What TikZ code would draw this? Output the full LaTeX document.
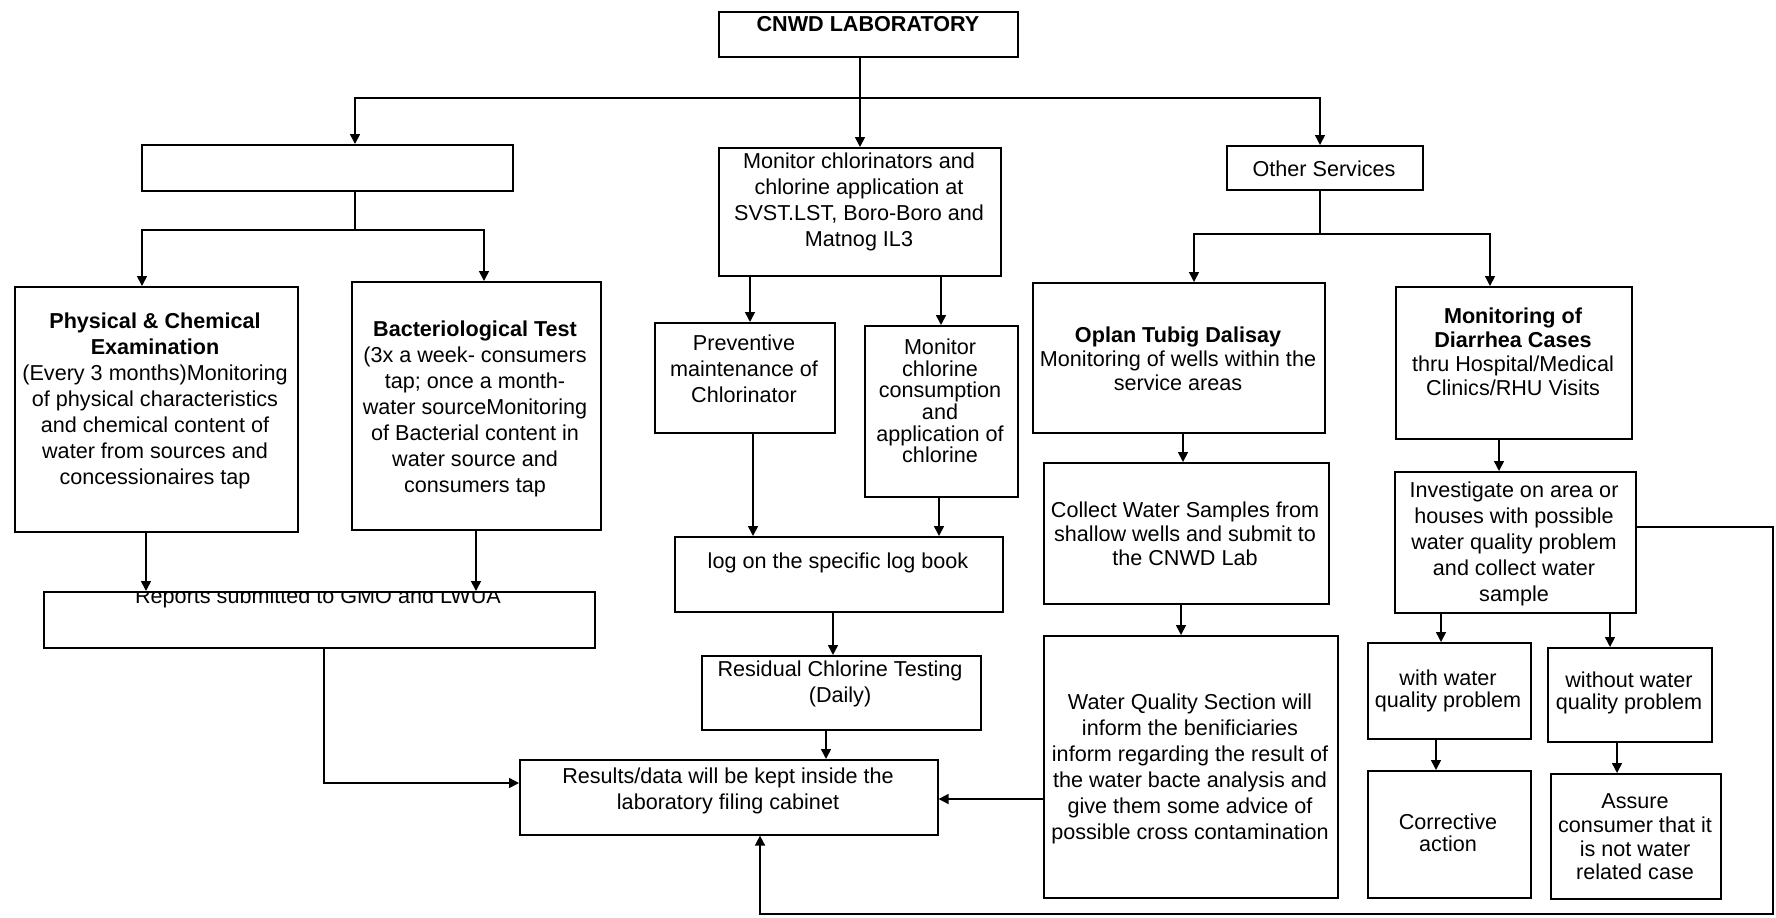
\documentclass[tikz,border=0pt]{standalone}
\usepackage{fontspec}
\setmainfont{Liberation Sans}
\usetikzlibrary{arrows.meta}
\newcommand\bx[5]{\node[box, anchor=north west, minimum width={(#4-#2)*0.5pt}, minimum height={(#5-#3)*0.5pt}] (#1) at (#2,#3) {};}
\tikzset{
  box/.style={draw, line width=0.8pt, inner sep=0pt, rectangle},
  txt/.style={align=center, inner sep=0pt, font=\fontsize{10.8}{13}\selectfont},
  ln/.style={line width=0.8pt},
  arr/.style={line width=0.8pt, -{Triangle[length=5pt,width=5pt]}},
}
\begin{document}
\begin{tikzpicture}[x=0.5pt,y=-0.5pt]
\useasboundingbox (0,0) rectangle (1776,917);
% boxes
\bx{cnwd}{718}{11}{1017}{56}
\bx{empty}{141}{144}{512}{190}
\bx{mon}{718}{147}{1000}{275}
\bx{other}{1226}{145}{1422}{189}
\bx{phys}{14}{286}{297}{531}
\bx{bact}{351}{281}{600}{529}
\bx{reports}{43}{591}{594}{647}
\bx{prev}{654}{322}{834}{432}
\bx{monc}{864}{325}{1017}{496}
\bx{log}{674}{536}{1002}{611}
\bx{resid}{701}{655}{980}{729}
\bx{results}{519}{759}{937}{834}
\bx{oplan}{1032}{282}{1324}{432}
\bx{diar}{1395}{286}{1631}{438}
\bx{collect}{1043}{462}{1328}{603}
\bx{wq}{1043}{635}{1337}{897}
\bx{inv}{1394}{471}{1635}{612}
\bx{with}{1367}{642}{1530}{738}
\bx{without}{1547}{647}{1711}{741}
\bx{corr}{1367}{770}{1530}{897}
\bx{assure}{1550}{773}{1720}{898}
% texts
\node[txt] (t-cnwd) at (868,24) {\bfseries CNWD LABORATORY};
\node[txt] (t-mon) at (859,202) {Monitor chlorinators and\\chlorine application at\\SVST.LST, Boro-Boro and\\Matnog IL3};
\node[txt] (t-other) at (1324,169) {Other Services};
\node[txt] (t-phys) at (155,401) {\bfseries Physical \& Chemical\\\bfseries Examination\\(Every 3 months)Monitoring\\of physical characteristics\\and chemical content of\\water from sources and\\concessionaires tap};
\node[txt] (t-bact) at (475,409) {\bfseries Bacteriological Test\\(3x a week- consumers\\tap; once a month-\\water sourceMonitoring\\of Bacterial content in\\water source and\\consumers tap};
\begin{scope}
\clip (43,591) rectangle (594,647);
\node[txt] (t-rep) at (318,597.5) {Reports submitted to GMO and LWUA};
\end{scope}
\node[txt] (t-prev) at (744,369) {Preventive\\maintenance of\\Chlorinator};
\node[txt, font=\fontsize{10.8}{10.8}\selectfont] (t-monc) at (940,401) {Monitor\\chlorine\\consumption\\and\\application of\\chlorine};
\node[txt] (t-log) at (838,563) {log on the specific log book};
\node[txt] (t-resid) at (840,684) {Residual Chlorine Testing\\(Daily)};
\node[txt] (t-results) at (728,791) {Results/data will be kept inside the\\laboratory filing cabinet};
\node[txt, font=\fontsize{10.8}{12}\selectfont] (t-oplan) at (1178,359) {\bfseries Oplan Tubig Dalisay\\Monitoring of wells within the\\service areas};
\node[txt, font=\fontsize{10.8}{12}\selectfont] (t-diar) at (1513,352) {\bfseries Monitoring of\\\bfseries Diarrhea Cases\\thru Hospital/Medical\\Clinics/RHU Visits};
\node[txt, font=\fontsize{10.8}{12}\selectfont] (t-collect) at (1185,534) {Collect Water Samples from\\shallow wells and submit to\\the CNWD Lab};
\node[txt] (t-wq) at (1190,769) {Water Quality Section will\\inform the benificiaries\\inform regarding the result of\\the water bacte analysis and\\give them some advice of\\possible cross contamination};
\node[txt] (t-inv) at (1514,544) {Investigate on area or\\houses with possible\\water quality problem\\and collect water\\sample};
\node[txt, font=\fontsize{10.8}{10.8}\selectfont] (t-with) at (1448,691) {with water\\quality problem};
\node[txt, font=\fontsize{10.8}{10.8}\selectfont] (t-without) at (1629,693) {without water\\quality problem};
\node[txt, font=\fontsize{10.8}{10.8}\selectfont] (t-corr) at (1448,833) {Corrective\\action};
\node[txt, font=\fontsize{10.8}{11.8}\selectfont] (t-assure) at (1635,837) {Assure\\consumer that it\\is not water\\related case};
% connectors
\draw[arr] (cnwd.south -| 860,0) -- (860,98) -| (empty.north -| 355,0);
\draw[arr] (860,98) -- (mon.north -| 860,0);
\draw[arr] (860,98) -| (other.north -| 1320,0);
\draw[arr] (empty.south -| 355,0) -- (355,230) -| (phys.north -| 142,0);
\draw[arr] (355,230) -| (bact.north -| 484,0);
\draw[arr] (phys.south -| 146,0) -- (reports.north -| 146,0);
\draw[arr] (bact.south -| 476,0) -- (reports.north -| 476,0);
\draw[arr] (reports.south -| 324,0) |- (results.west |- 0,783);
\draw[arr] (mon.south -| 750,0) -- (prev.north -| 750,0);
\draw[arr] (mon.south -| 941,0) -- (monc.north -| 941,0);
\draw[arr] (prev.south -| 753,0) -- (log.north -| 753,0);
\draw[arr] (monc.south -| 939,0) -- (log.north -| 939,0);
\draw[arr] (log.south -| 833,0) -- (resid.north -| 833,0);
\draw[arr] (resid.south -| 826,0) -- (results.north -| 826,0);
\draw[arr] (other.south -| 1320,0) -- (1320,234) -| (oplan.north -| 1194,0);
\draw[arr] (1320,234) -| (diar.north -| 1490,0);
\draw[arr] (oplan.south -| 1183,0) -- (collect.north -| 1183,0);
\draw[arr] (collect.south -| 1181,0) -- (wq.north -| 1181,0);
\draw[arr] (wq.west |- 0,799) -- (results.east |- 0,799);
\draw[arr] (diar.south -| 1499,0) -- (inv.north -| 1499,0);
\draw[arr] (inv.south -| 1441,0) -- (with.north -| 1441,0);
\draw[arr] (inv.south -| 1610,0) -- (without.north -| 1610,0);
\draw[arr] (with.south -| 1436,0) -- (corr.north -| 1436,0);
\draw[arr] (without.south -| 1617,0) -- (assure.north -| 1617,0);
\coordinate (c1) at (1773,527);
\coordinate (c2) at (1773,914);
\coordinate (c3) at (760,914);
\draw[arr] (inv.east |- c1) -- (c1) -- (c2) -- (c3) -- (results.south -| c3);
\end{tikzpicture}
\end{document}
